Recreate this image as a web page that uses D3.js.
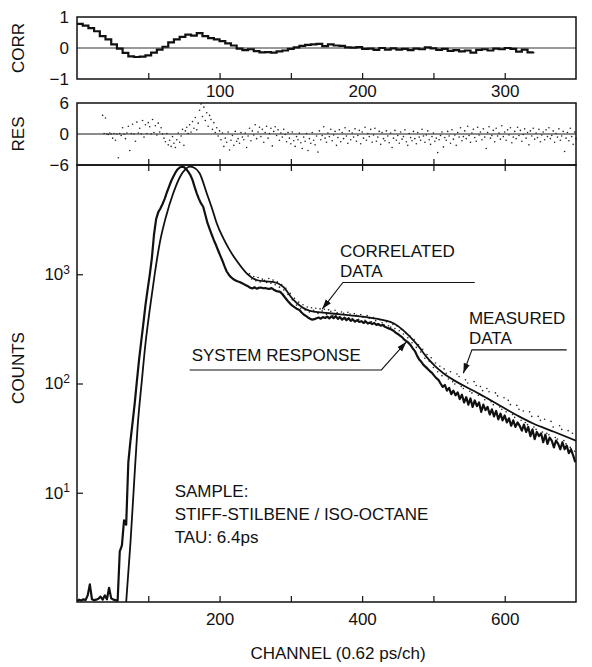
<!DOCTYPE html>
<html>
<head>
<meta charset="utf-8">
<script src="https://cdn.jsdelivr.net/npm/d3@7"></script>
<style>
  body { margin: 0; background: #fff; }
  svg text { font-family: "Liberation Sans", Arial, sans-serif; fill: #111; }
</style>
</head>
<body>
<svg id="chart" width="592" height="667"></svg>
<script>
// correlation of residuals, one value every 4 channels from channel 0
const corrStart = 0;
const corrStep = 4;
const corrValues = [
  0.78, 0.72, 0.64, 0.54, 0.38, 0.28, 0.12, -0.02, -0.16, -0.27,
  -0.29, -0.28, -0.24, -0.15, -0.05, 0.04, 0.18, 0.28, 0.36, 0.43,
  0.40, 0.48, 0.38, 0.32, 0.28, 0.22, 0.15, 0.08, -0.02, -0.07,
  -0.04, -0.10, -0.14, -0.13, -0.15, -0.11, -0.08, -0.03, 0.02, 0.07,
  0.10, 0.12, 0.13, 0.06, 0.12, 0.08, 0.07, 0.02, 0.01, 0.03,
  -0.03, -0.02, -0.06, 0.00, -0.05, -0.01, -0.05, -0.03, -0.07, -0.02,
  -0.04, 0.02, -0.01, -0.06, -0.03, -0.09, -0.07, -0.11, -0.08, -0.15,
  -0.06, -0.04, -0.08, -0.02, -0.04, 0.00, -0.03, -0.12, -0.05, -0.14,
  -0.12
];

// weighted residuals, one per channel from channel 18
const resStart = 18;
const resValues = [
  3.6, 0.1, 3.1, 0, -0.1, 0.2, 0, -0.8, 0.1, -1.2,
  0, -4.6, 0.1, -0.3, 1.2, 0, -0.9, 0.2, 1.5, -3.2,
  0.1, 1.9, 0, -1.4, 2.3, 0.2, 1.1, 0, 2.6, -0.6,
  1.8, 0.1, 2.2, 1.4, 0, 2.8, 0.3, 1.6, -0.2, 2.1,
  0.4, 1.2, 0, -0.8, -1.5, 0.1, -2.1, -1.2, -2.4, -0.5,
  -1.8, -2.6, -1.1, 0.2, -1.6, -0.4, 0.9, -2.2, 0.6, 1.3,
  0.1, 1.8, 0.4, 2.4, 1.1, 3.2, 0.8, 2.1, 4.6, 5.8,
  3.4, 5.2, 2.6, 4.1, 1.5, 3.6, 2.8, 0.9, 2.2, 0.3,
  1.2, -0.4, 0.6, -1.1, 0.2, -2.4, -0.8, -1.6, 0.4, -3.1,
  -1.2, -0.3, -2.2, 0.5, -1.4, -0.9, -1.8, 0.3, -0.6, -1.1,
  0.2, -2.6, -0.4, 1.1, -1.3, 0.6, -0.2, 1.8, -0.9, 0.4,
  1.3, -0.5, 0.9, -1.6, 0.3, 1.5, -0.8, 0.1, 1.1, -2.3,
  0.5, 1.4, -0.3, 0.8, -1.2, 0.2, -0.6, 0.9, -0.1, -1.5,
  0.3, -0.8, -1.9, 0.4, -1.3, -2.4, -0.5, -1.1, 0.2, -1.7,
  -2.8, -0.6, -1.4, 0.1, -3.2, -0.9, -1.8, 0.3, -1.2, -2.1,
  -0.4, -3.5, 0.6, -1.1, -0.3, 1.4, -0.8, -1.6, 0.2, -0.5,
  0.9, -1.3, -0.2, 0.5, -2.2, -0.7, 0.8, -1.5, 0.3, -0.9,
  1.2, -0.4, -1.8, 0.6, -1.1, 0.2, -0.6, 1.0, -1.4, -0.3,
  0.7, -1.9, 0.4, -0.8, 1.3, -1.2, 0.1, -0.5, 0.9, -1.6,
  -0.2, 1.1, -1.4, -0.6, 0.5, -2.0, 0.3, -0.9, -1.3, 0.6,
  -0.4, -1.7, 0.2, -2.6, -0.8, 0.7, -1.2, -0.3, -1.8, 0.4,
  -1.0, -0.5, 0.8, -1.5, -2.2, 0.1, -0.7, -1.3, 0.5, -0.9,
  -1.9, 0.3, -0.6, -1.2, 0.9, -0.4, -1.6, -0.2, 0.6, -1.1,
  -2.0, -0.5, 0.2, -1.4, -0.8, -3.6, -1.1, -0.3, 0.4, -2.5,
  -0.7, -1.2, 0.5, -0.4, -1.8, 0.8, -1.0, -0.2, -2.2, 0.3,
  -0.6, 1.2, -1.3, -0.5, 0.6, -0.9, 1.5, -0.3, -1.6, 0.2,
  0.9, -0.7, -1.4, 1.3, -0.2, 0.4, -1.1, 1.0, -0.6, -2.8,
  0.3, 1.4, -0.8, -0.3, 0.7, -1.5, 1.1, -0.4, 0.2, -1.0,
  1.6, -0.5, 0.4, -1.2, 0.8, -0.2, 1.2, -1.7, -0.6, 0.5,
  -0.9, 1.3, -0.3, 0.7, -1.4, -0.1, 1.0, -0.8, 0.3, -2.1,
  0.6, -0.4, 1.1, -1.0, 0.2, -0.7, 0.9, -1.5, -0.2, 0.4,
  -1.1, 0.8, -0.5, 1.2, -0.9, -0.3, 0.6, -1.6, 0.1, -0.6,
  1.0, -1.2, -0.4, 0.5, -3.4, -0.8, 0.3, -1.3, 1.1, -0.5,
  -2.0, 0.4, -0.9
];

// system response counts, one value every 3 channels from channel 0
const sysStart = 0;
const sysStep = 3;
const sysCounts = [
  1.02, 1.05, 1.03, 1.06, 1.04, 1.15, 1.45, 1.06, 1.04, 1.05,
  1.07, 1.12, 1.05, 1.15, 1.06, 1.35, 1.08, 1.05, 1.04, 1.03,
  2.9, 3.3, 5.6, 5.1, 19, 30, 44, 66, 105, 164,
  240, 350, 520, 720, 980, 1400, 2300, 3200, 3700, 4000,
  4400, 4900, 5600, 6300, 7100, 7800, 8500, 9100, 9500, 9650,
  9550, 9200, 8700, 8100, 7300, 6300, 5500, 4900, 4450, 4150,
  3500, 2950, 2600, 2300, 2050, 1850, 1650, 1480, 1330, 1180,
  1060, 990, 940, 905, 880, 862, 850, 832, 812, 792,
  775, 752, 742, 760, 738, 750, 756, 744, 748, 738,
  735, 746, 722, 705, 696, 690, 660, 622, 588, 556,
  530, 510, 495, 480, 470, 446, 428, 416, 402, 392,
  384, 388, 396, 402, 392, 406, 398, 410, 394, 412,
  396, 414, 390, 404, 384, 400, 380, 396, 374, 386,
  368, 380, 366, 372, 358, 370, 354, 362, 350, 358,
  344, 350, 338, 344, 330, 324, 318, 312, 304, 292,
  284, 274, 266, 252, 244, 236, 224, 210, 198, 180,
  166, 158, 148, 142, 136, 130, 125, 118, 112, 108,
  100, 93, 97, 86, 91, 80, 86, 78, 83, 72,
  79, 67, 75, 64, 73, 61, 70, 62, 67, 55,
  64, 57, 61, 52, 58, 50, 56, 47, 53, 46,
  51, 44, 48, 41, 46, 40, 44, 41, 37, 42,
  36, 40, 33, 38, 31, 36, 33, 35, 29, 34,
  28, 32, 30, 26, 30, 28, 25, 29, 25, 27,
  23, 25, 22, 19
];

// correlated (fitted) decay
const fitChannels = [69, 75, 80, 85, 91, 96, 102, 109, 116, 125, 135, 145, 152, 158, 165, 172,
  182, 190, 196, 205, 214, 225, 238, 252, 265, 275, 289, 303, 322, 335, 345, 370, 406, 430,
  444, 457, 467, 480, 490, 502, 514, 532, 550, 565, 593, 620, 640, 670, 700];
const fitCounts = [1, 3.5, 12, 40, 107, 230, 471, 1000, 1920, 3400, 5510, 7900, 9100, 9650, 9400, 8400,
  5510, 3900, 2930, 2150, 1670, 1300, 1020, 886, 860, 850, 770, 590, 475, 452, 445, 430, 405, 380,
  356, 310, 268, 215, 176, 145, 124, 104, 90, 80, 63, 50, 43, 36, 30];

// measured counts, one value every 3 channels from channel 242
const measStart = 242;
const measStep = 3;
const measCounts = [
  1010, 905, 955, 870, 935, 848, 902, 878, 842, 915,
  828, 884, 802, 852, 762, 805, 718, 745, 652, 668,
  584, 603, 522, 556, 488, 525, 470, 502, 452, 494,
  468, 488, 438, 482, 462, 478, 428, 472, 458, 418,
  468, 446, 410, 452, 440, 398, 448, 432, 394, 436,
  422, 386, 428, 404, 378, 418, 396, 368, 402, 376,
  352, 384, 360, 342, 368, 338, 328, 348, 318, 336,
  304, 312, 284, 292, 262, 272, 236, 252, 214, 226,
  194, 206, 170, 184, 160, 172, 140, 154, 128, 144,
  118, 136, 124, 110, 128, 104, 99, 122, 116, 94,
  90, 108, 101, 85, 82, 104, 96, 78, 94, 86,
  71, 90, 84, 68, 64, 82, 77, 61, 58, 74,
  55, 70, 64, 52, 49, 63, 58, 46, 56, 44,
  42, 55, 50, 40, 38, 50, 46, 36, 47, 35,
  34, 45, 40, 32, 31, 41, 38, 30, 28, 37,
  26, 35, 24
];

const corrTicks = [50, 100, 150, 200, 250, 300];
const corrLabelTicks = [100, 200, 300];
const mainTicks = [100, 200, 300, 400, 500, 600];
const mainLabelTicks = [200, 400, 600];
const countTicks = [10, 100, 1000];
const sampleLines = ['SAMPLE:', 'STIFF-STILBENE / ISO-OCTANE', 'TAU: 6.4ps'];

const notes = [
  { lines: ['CORRELATED', 'DATA'], tip: [344, 480], elbow: [373, 840], end: [558, 840] },
  { lines: ['MEASURED', 'DATA'], tip: [542, 124], elbow: [554, 203], end: [687, 203] },
  { lines: ['SYSTEM RESPONSE'], tip: [462, 241], elbow: [427, 133], end: [158, 133] }
];

const config = {
  'left': 77,
  'right': 576,
  'font-size': 17,
  'ink': '#111'
};

const svg = d3.select('#chart');
const L = config['left'];
const R = config['right'];

const xCorr = d3.scaleLinear().domain([0, 350]).range([L, R]);
const xMain = d3.scaleLinear().domain([0, 700]).range([L, R]);
const yCorr = d3.scaleLinear().domain([-1, 1]).range([79, 17]);
const yRes = d3.scaleLinear().domain([-6, 6]).range([165, 103]);
const yMain = d3.scaleLog().domain([1, 1e4]).range([602, 165]).clamp(true);

const defs = svg.append('defs');
defs.append('clipPath').attr('id', 'clipMain')
  .append('rect').attr('x', L).attr('y', 165).attr('width', R - L).attr('height', 602 - 165);
defs.append('marker')
  .attr('id', 'arrow')
  .attr('viewBox', '0 0 10 10')
  .attr('refX', 10).attr('refY', 5)
  .attr('markerWidth', 10).attr('markerHeight', 10)
  .attr('markerUnits', 'userSpaceOnUse')
  .attr('orient', 'auto')
  .append('path').attr('d', 'M0,1.8L10,5L0,8.2Z').attr('fill', config['ink']);

function styleAxis(g) {
  g.attr('font-size', config['font-size']).attr('font-family', null);
  g.select('.domain').remove();
  g.selectAll('.tick line').attr('stroke', config['ink']).attr('stroke-width', 1.2);
  g.selectAll('.tick text').attr('fill', config['ink']);
}

// ---- CORR panel
svg.append('line')
  .attr('x1', L).attr('x2', R).attr('y1', yCorr(0)).attr('y2', yCorr(0))
  .attr('stroke', '#333').attr('stroke-width', 1);

svg.append('path')
  .datum(corrValues)
  .attr('fill', 'none')
  .attr('stroke', config['ink'])
  .attr('stroke-width', 2.2)
  .attr('d', d3.line()
    .x((d, i) => xCorr(corrStart + i * corrStep))
    .y(d => yCorr(d))
    .curve(d3.curveStepAfter));

svg.append('g')
  .attr('transform', `translate(0,${yCorr(-1)})`)
  .call(d3.axisBottom(xCorr).tickValues(corrTicks).tickSize(-6).tickPadding(6)
    .tickFormat(d => corrLabelTicks.includes(d) ? d : ''))
  .call(styleAxis);

svg.append('g')
  .attr('transform', `translate(${L},0)`)
  .call(d3.axisLeft(yCorr).tickValues([-1, 0, 1]).tickSize(0).tickPadding(8).tickFormat(d3.format('d')))
  .call(styleAxis);

svg.append('rect')
  .attr('x', L).attr('y', yCorr(1)).attr('width', R - L).attr('height', yCorr(-1) - yCorr(1))
  .attr('fill', 'none').attr('stroke', config['ink']).attr('stroke-width', 1.5);

// ---- RES panel
svg.append('line')
  .attr('x1', L).attr('x2', R).attr('y1', yRes(0)).attr('y2', yRes(0))
  .attr('stroke', '#666').attr('stroke-width', 1.6);

svg.append('g')
  .selectAll('circle')
  .data(resValues)
  .enter()
  .append('circle')
  .attr('cx', (d, i) => xCorr(resStart + i))
  .attr('cy', d => yRes(d))
  .attr('r', 0.8)
  .attr('fill', '#222');

svg.append('g')
  .attr('transform', `translate(0,${yRes(-6)})`)
  .call(d3.axisBottom(xCorr).tickValues(corrTicks).tickSize(-6).tickFormat(''))
  .call(styleAxis);

svg.append('g')
  .attr('transform', `translate(${L},0)`)
  .call(d3.axisLeft(yRes).tickValues([-6, 0, 6]).tickSize(0).tickPadding(8).tickFormat(d3.format('d')))
  .call(styleAxis);

svg.append('rect')
  .attr('x', L).attr('y', yRes(6)).attr('width', R - L).attr('height', yRes(-6) - yRes(6))
  .attr('fill', 'none').attr('stroke', config['ink']).attr('stroke-width', 1.5);

// ---- main decay panel
const plot = svg.append('g').attr('clip-path', 'url(#clipMain)');

plot.append('g')
  .selectAll('circle')
  .data(measCounts)
  .enter()
  .append('circle')
  .attr('cx', (d, i) => xMain(measStart + i * measStep))
  .attr('cy', d => yMain(d))
  .attr('r', 0.8)
  .attr('fill', '#222');

plot.append('path')
  .datum(sysCounts)
  .attr('fill', 'none')
  .attr('stroke', config['ink'])
  .attr('stroke-width', 2.2)
  .attr('stroke-linejoin', 'round')
  .attr('d', d3.line()
    .x((d, i) => xMain(sysStart + i * sysStep))
    .y(d => yMain(d)));

plot.append('path')
  .datum(fitChannels.map((c, i) => [c, fitCounts[i]]))
  .attr('fill', 'none')
  .attr('stroke', config['ink'])
  .attr('stroke-width', 1.8)
  .attr('d', d3.line()
    .x(d => xMain(d[0]))
    .y(d => yMain(d[1]))
    .curve(d3.curveMonotoneX));

svg.append('g')
  .attr('transform', 'translate(0,602)')
  .call(d3.axisBottom(xMain).tickValues(mainTicks).tickSize(-6).tickPadding(11)
    .tickFormat(d => mainLabelTicks.includes(d) ? d : ''))
  .call(styleAxis);

svg.append('g')
  .attr('transform', 'translate(0,165)')
  .call(d3.axisTop(xMain).tickValues(mainTicks).tickSize(-6).tickFormat(''))
  .call(styleAxis);

const yAxisMain = svg.append('g')
  .attr('transform', `translate(${L},0)`)
  .call(d3.axisLeft(yMain).tickValues(countTicks).tickSize(-6).tickPadding(7).tickFormat(() => '10'))
  .call(styleAxis);

yAxisMain.selectAll('.tick text')
  .append('tspan')
  .attr('dy', '-0.55em')
  .attr('font-size', 12)
  .text(d => Math.round(Math.log10(d)));

svg.append('rect')
  .attr('x', L).attr('y', 165).attr('width', R - L).attr('height', 602 - 165)
  .attr('fill', 'none').attr('stroke', config['ink']).attr('stroke-width', 1.5);

// ---- annotations
notes.forEach(n => {
  const tip = [xMain(n.tip[0]), yMain(n.tip[1])];
  const elbow = [xMain(n.elbow[0]), yMain(n.elbow[1])];
  const end = [xMain(n.end[0]), yMain(n.end[1])];

  svg.append('path')
    .attr('d', d3.line()([end, elbow, tip]))
    .attr('fill', 'none')
    .attr('stroke', config['ink'])
    .attr('stroke-width', 1.1)
    .attr('marker-end', 'url(#arrow)');

  const textX = Math.min(elbow[0], end[0]) + (end[0] < elbow[0] ? 2 : -3);
  const gap = n.lines.length > 1 ? 6 : 9;
  n.lines.forEach((t, k) => {
    svg.append('text')
      .attr('x', textX)
      .attr('y', elbow[1] - gap - (n.lines.length - 1 - k) * 20)
      .attr('font-size', config['font-size'])
      .text(t);
  });
});

svg.append('g')
  .selectAll('text')
  .data(sampleLines)
  .enter()
  .append('text')
  .attr('x', xMain(137))
  .attr('y', (d, i) => yMain(9.1) + i * 23)
  .attr('font-size', config['font-size'])
  .text(d => d);

// ---- axis titles
const titles = [
  { text: 'CORR', x: 24, y: yCorr(0), rotate: true },
  { text: 'RES', x: 24, y: yRes(0), rotate: true },
  { text: 'COUNTS', x: 24, y: 368, rotate: true },
  { text: 'CHANNEL (0.62 ps/ch)', x: 338, y: 659, rotate: false }
];

titles.forEach(t => {
  svg.append('text')
    .attr('transform', t.rotate ? `translate(${t.x},${t.y}) rotate(-90)` : `translate(${t.x},${t.y})`)
    .attr('text-anchor', 'middle')
    .attr('font-size', config['font-size'])
    .text(t.text);
});
</script>
</body>
</html>
